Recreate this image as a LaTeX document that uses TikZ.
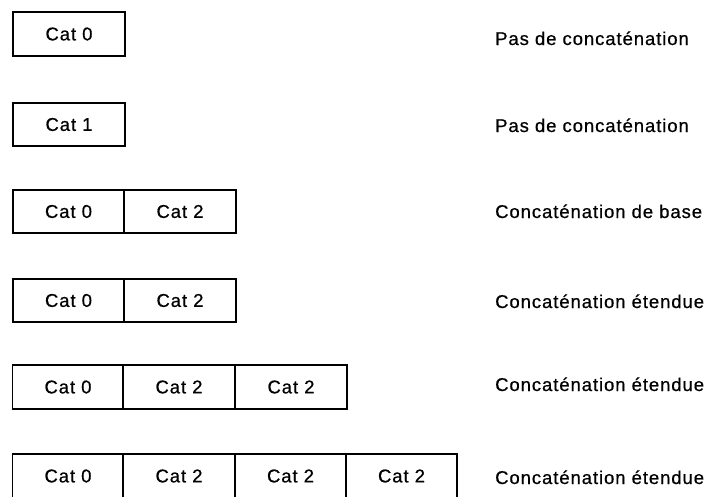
\documentclass[tikz,border=0pt]{standalone}
\usepackage{fontspec}
\newfontfamily\labfont[LetterSpace=5,FakeBold=0.6]{Liberation Sans}
\begin{document}
\begin{tikzpicture}[x=1pt,y=-1pt,
  cell/.style={draw, line width=1.3pt, minimum width=111pt, minimum height=44pt, inner sep=0pt,
    font=\labfont\fontsize{18.5}{22}\selectfont},
  lbl/.style={anchor=base west, inner sep=0pt, font=\labfont\fontsize{18.5}{22}\selectfont}]
\useasboundingbox (0,0) rectangle (713,496);
% row 1
\node[cell, minimum width=112pt] (a1) at (69,34) {Cat 0};
\node[lbl] (t1) at (495,45) {Pas de concaténation};
% row 2
\node[cell, minimum width=112pt, minimum height=43pt] (b1) at (69,124.5) {Cat 1};
\node[lbl] (t2) at (495,132) {Pas de concaténation};
% row 3
\node[cell, minimum height=43pt] (c1) at (68.5,211.5) {Cat 0};
\node[cell, minimum height=43pt, minimum width=112pt] (c2) at (180,211.5) {Cat 2};
\node[lbl] (t3) at (495,218) {Concaténation de base};
% row 4
\node[cell, minimum height=43pt] (d1) at (68.5,300.5) {Cat 0};
\node[cell, minimum height=43pt, minimum width=112pt] (d2) at (180,300.5) {Cat 2};
\node[lbl] (t4) at (495,308) {Concaténation étendue};
% row 5
\node[cell] (e1) at (68,387) {Cat 0};
\node[cell, minimum width=112pt] (e2) at (179,387) {Cat 2};
\node[cell, minimum width=112pt] (e3) at (291,387) {Cat 2};
\node[lbl] (t5) at (495,391) {Concaténation étendue};
% row 6
\node[cell] (f1) at (68,476) {Cat 0};
\node[cell, minimum width=112pt] (f2) at (179,476) {Cat 2};
\node[cell] (f3) at (290.5,476) {Cat 2};
\node[cell] (f4) at (401.5,476) {Cat 2};
\node[lbl] (t6) at (495,484) {Concaténation étendue};
\end{tikzpicture}
\end{document}
